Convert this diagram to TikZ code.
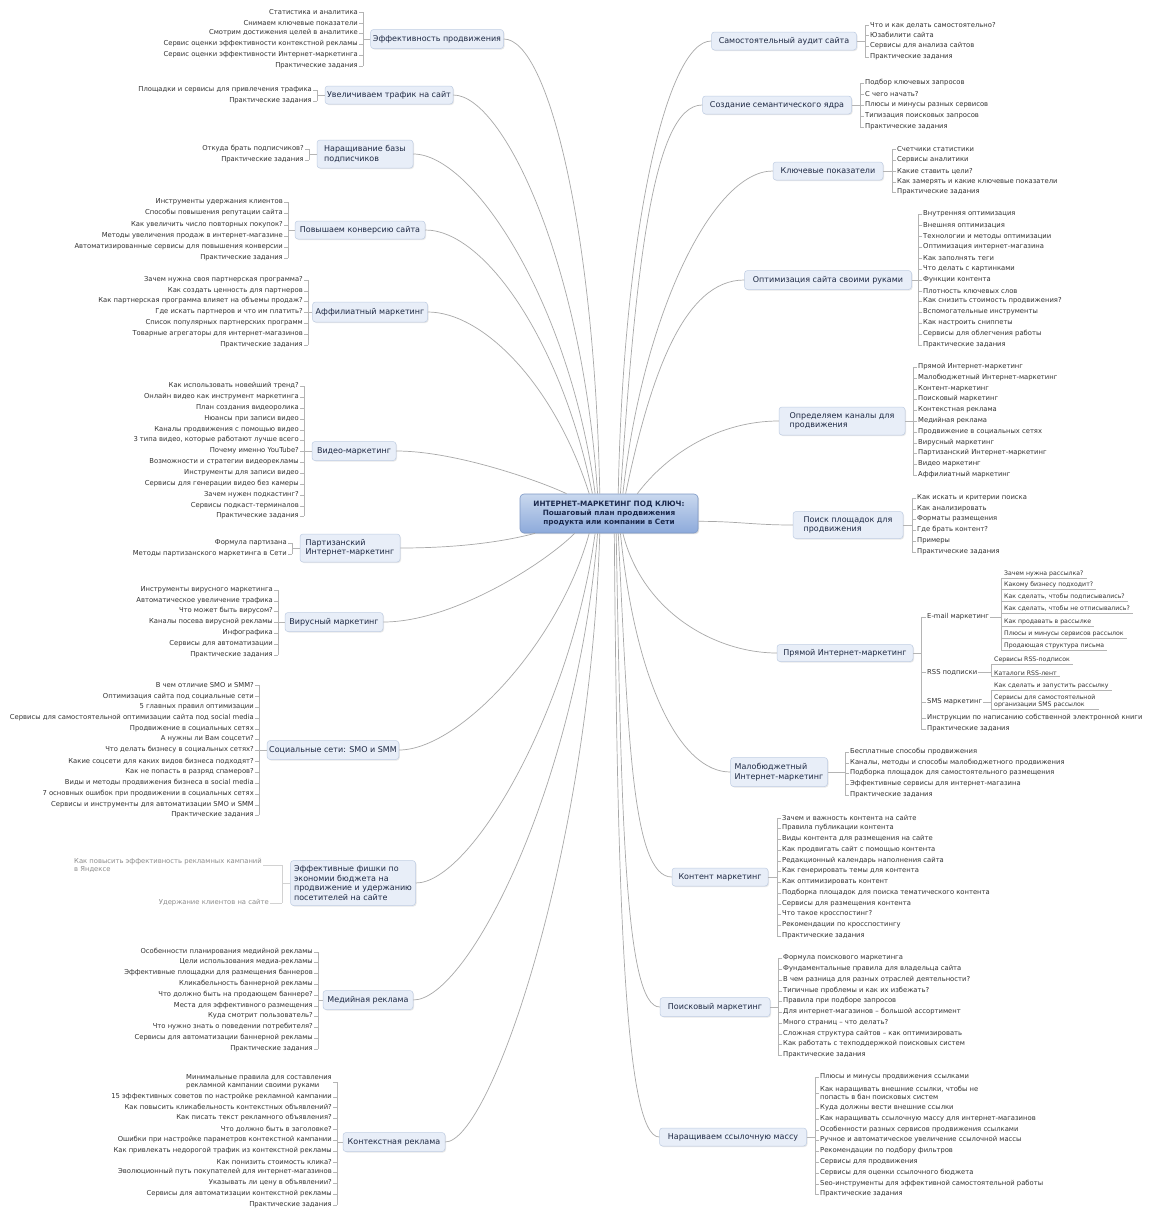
\documentclass[tikz,border=0pt]{standalone}
\usepackage{fontspec}
\setmainfont{DejaVu Sans}
\usetikzlibrary{shadows}

\definecolor{boxfill}{HTML}{E8EEF8}
\definecolor{boxline}{HTML}{BFCDE3}
\definecolor{boxtxt}{HTML}{1F2A44}
\definecolor{rootline}{HTML}{7D98C6}
\definecolor{roottop}{HTML}{C9D8EE}
\definecolor{rootbot}{HTML}{8DAADB}
\definecolor{roottxt}{HTML}{1C2A4E}
\definecolor{wirec}{HTML}{A8A8A8}
\definecolor{linkc}{HTML}{B4B4B4}
\definecolor{leaftxt}{HTML}{333333}

\newcommand\mmleaf{\fontsize{6.8}{7.8}\selectfont}
\newcommand\mmsmall{\fontsize{6.2}{7.1}\selectfont}

\begin{document}
\begin{tikzpicture}[x=1pt,y=-1pt,
  wire/.style={draw=wirec, line width=0.7pt},
  lnk/.style={draw=linkc, line width=0.45pt},
  root/.style={draw=rootline, line width=0.6pt, rounded corners=4pt, top color=roottop, bottom color=rootbot,
    text=roottxt, font=\bfseries\fontsize{7.3}{9}\selectfont, align=center, minimum width=178pt, minimum height=39pt,
    inner sep=2pt, drop shadow={opacity=0.25, shadow xshift=1.2pt, shadow yshift=-1.2pt}},
  branch/.style={draw=boxline, line width=0.5pt, fill=boxfill, rounded corners=3pt, text=boxtxt, align=left,
    font=\fontsize{8}{9.5}\selectfont, inner sep=2pt, drop shadow={opacity=0.18, shadow xshift=1pt, shadow yshift=-1pt}},
  leafl/.style={anchor=east, text=leaftxt, font=\mmleaf, inner xsep=1pt, inner ysep=0.5pt, align=left},
  leafr/.style={anchor=west, text=leaftxt, font=\mmleaf, inner xsep=1pt, inner ysep=0.5pt, align=left},
  uline/.style={anchor=west, text=leaftxt, font=\mmsmall, inner xsep=3pt, inner ysep=1pt, align=left,
    append after command={(\tikzlastnode.south west) edge[lnk] (\tikzlastnode.south east)}},
  faint/.style={text=black!45},
]
\fill[white] (0,0) rectangle (1166,1210);
\useasboundingbox (0,0) rectangle (1166,1210);

% root
\node[root] (root) at (609,513.5) {ИНТЕРНЕТ-МАРКЕТИНГ ПОД КЛЮЧ:\\Пошаговый план продвижения\\продукта или компании в Сети};

% ---------- left side ----------
\node[branch, minimum width=133pt, minimum height=19pt] (effprod) at (437,39) {Эффективность продвижения};
\coordinate (keffprod) at (363,39);
\node[leafl] (effprod1) at (359,12) {Статистика и аналитика};
\node[leafl] (effprod2) at (359,23) {Снимаем ключевые показатели};
\node[leafl] (effprod3) at (359,33) {Смотрим достижения целей в аналитике};
\node[leafl] (effprod4) at (359,44) {Сервис оценки эффективности контекстной рекламы};
\node[leafl] (effprod5) at (359,55) {Сервис оценки эффективности Интернет-маркетинга};
\node[leafl] (effprod6) at (359,66) {Практические задания};
\draw[lnk] (effprod.west) -- (keffprod) (effprod1.east -| keffprod) -- (effprod6.east -| keffprod)
  \foreach \i in {1,...,6}{(effprod\i.east) -- (effprod\i.east -| keffprod)};

\node[branch, minimum width=128pt, minimum height=18pt] (traffic) at (389,95) {Увеличиваем трафик на сайт};
\coordinate (ktraffic) at (317,95);
\node[leafl] (traffic1) at (313,90) {Площадки и сервисы для привлечения трафика};
\node[leafl] (traffic2) at (313,101) {Практические задания};
\draw[lnk] (traffic.west) -- (ktraffic) (traffic1.east -| ktraffic) -- (traffic2.east -| ktraffic)
  \foreach \i in {1,2}{(traffic\i.east) -- (traffic\i.east -| ktraffic)};

\node[branch, minimum width=96pt, minimum height=28pt] (subs) at (365,154) {Наращивание базы\\подписчиков};
\coordinate (ksubs) at (309,154);
\node[leafl] (subs1) at (305,149) {Откуда брать подписчиков?};
\node[leafl] (subs2) at (305,160) {Практические задания};
\draw[lnk] (subs.west) -- (ksubs) (subs1.east -| ksubs) -- (subs2.east -| ksubs)
  \foreach \i in {1,2}{(subs\i.east) -- (subs\i.east -| ksubs)};

\node[branch, minimum width=130pt, minimum height=18pt] (conv) at (360,230) {Повышаем конверсию сайта};
\coordinate (kconv) at (288,230);
\node[leafl] (conv1) at (284,202) {Инструменты удержания клиентов};
\node[leafl] (conv2) at (284,213) {Способы повышения репутации сайта};
\node[leafl] (conv3) at (284,225) {Как увеличить число повторных покупок?};
\node[leafl] (conv4) at (284,236) {Методы увеличения продаж в интернет-магазине};
\node[leafl] (conv5) at (284,247) {Автоматизированные сервисы для повышения конверсии};
\node[leafl] (conv6) at (284,258) {Практические задания};
\draw[lnk] (conv.west) -- (kconv) (conv1.east -| kconv) -- (conv6.east -| kconv)
  \foreach \i in {1,...,6}{(conv\i.east) -- (conv\i.east -| kconv)};

\node[branch, minimum width=115pt, minimum height=20pt] (affil) at (370,312) {Аффилиатный маркетинг};
\coordinate (kaffil) at (308,312);
\node[leafl] (affil1) at (304,280) {Зачем нужна своя партнерская программа?};
\node[leafl] (affil2) at (304,291) {Как создать ценность для партнеров};
\node[leafl] (affil3) at (304,301) {Как партнерская программа влияет на объемы продаж?};
\node[leafl] (affil4) at (304,312) {Где искать партнеров и что им платить?};
\node[leafl] (affil5) at (304,323) {Список популярных партнерских программ};
\node[leafl] (affil6) at (304,334) {Товарные агрегаторы для интернет-магазинов};
\node[leafl] (affil7) at (304,345) {Практические задания};
\draw[lnk] (affil.west) -- (kaffil) (affil1.east -| kaffil) -- (affil7.east -| kaffil)
  \foreach \i in {1,...,7}{(affil\i.east) -- (affil\i.east -| kaffil)};

\node[branch, minimum width=84pt, minimum height=19pt] (video) at (354,451) {Видео-маркетинг};
\coordinate (kvideo) at (304,451);
\node[leafl] (video1) at (300,386) {Как использовать новейший тренд?};
\node[leafl] (video2) at (300,397) {Онлайн видео как инструмент маркетинга};
\node[leafl] (video3) at (300,408) {План создания видеоролика};
\node[leafl] (video4) at (300,419) {Нюансы при записи видео};
\node[leafl] (video5) at (300,430) {Каналы продвижения с помощью видео};
\node[leafl] (video6) at (300,440) {3 типа видео, которые работают лучше всего};
\node[leafl] (video7) at (300,451) {Почему именно YouTube?};
\node[leafl] (video8) at (300,462) {Возможности и стратегии видеорекламы};
\node[leafl] (video9) at (300,473) {Инструменты для записи видео};
\node[leafl] (video10) at (300,484) {Сервисы для генерации видео без камеры};
\node[leafl] (video11) at (300,495) {Зачем нужен подкастинг?};
\node[leafl] (video12) at (300,506) {Сервисы подкаст-терминалов};
\node[leafl] (video13) at (300,516) {Практические задания};
\draw[lnk] (video.west) -- (kvideo) (video1.east -| kvideo) -- (video13.east -| kvideo)
  \foreach \i in {1,...,13}{(video\i.east) -- (video\i.east -| kvideo)};

\node[branch, minimum width=100pt, minimum height=28pt] (guerr) at (350,548) {Партизанский\\Интернет-маркетинг};
\coordinate (kguerr) at (292,548);
\node[leafl] (guerr1) at (288,543) {Формула партизана};
\node[leafl] (guerr2) at (288,554) {Методы партизанского маркетинга в Сети};
\draw[lnk] (guerr.west) -- (kguerr) (guerr1.east -| kguerr) -- (guerr2.east -| kguerr)
  \foreach \i in {1,2}{(guerr\i.east) -- (guerr\i.east -| kguerr)};

\node[branch, minimum width=98pt, minimum height=19pt] (viral) at (334,622) {Вирусный маркетинг};
\coordinate (kviral) at (278,622);
\node[leafl] (viral1) at (274,590) {Инструменты вирусного маркетинга};
\node[leafl] (viral2) at (274,601) {Автоматическое увеличение трафика};
\node[leafl] (viral3) at (274,611) {Что может быть вирусом?};
\node[leafl] (viral4) at (274,622) {Каналы посева вирусной рекламы};
\node[leafl] (viral5) at (274,633) {Инфографика};
\node[leafl] (viral6) at (274,644) {Сервисы для автоматизации};
\node[leafl] (viral7) at (274,655) {Практические задания};
\draw[lnk] (viral.west) -- (kviral) (viral1.east -| kviral) -- (viral7.east -| kviral)
  \foreach \i in {1,...,7}{(viral\i.east) -- (viral\i.east -| kviral)};

\node[branch, minimum width=131pt, minimum height=19pt] (social) at (333,750) {Социальные сети: SMO и SMM};
\coordinate (ksocial) at (259,750);
\node[leafl] (social1) at (255,685) {В чем отличие SMO и SMM?};
\node[leafl] (social2) at (255,696) {Оптимизация сайта под социальные сети};
\node[leafl] (social3) at (255,707) {5 главных правил оптимизации};
\node[leafl] (social4) at (255,718) {Сервисы для самостоятельной оптимизации сайта под social media};
\node[leafl] (social5) at (255,729) {Продвижение в социальных сетях};
\node[leafl] (social6) at (255,739) {А нужны ли Вам соцсети?};
\node[leafl] (social7) at (255,750) {Что делать бизнесу в социальных сетях?};
\node[leafl] (social8) at (255,761) {Какие соцсети для каких видов бизнеса подходят?};
\node[leafl] (social9) at (255,772) {Как не попасть в разряд спамеров?};
\node[leafl] (social10) at (255,783) {Виды и методы продвижения бизнеса в social media};
\node[leafl] (social11) at (255,794) {7 основных ошибок при продвижении в социальных сетях};
\node[leafl] (social12) at (255,805) {Сервисы и инструменты для автоматизации SMO и SMM};
\node[leafl] (social13) at (255,815) {Практические задания};
\draw[lnk] (social.west) -- (ksocial) (social1.east -| ksocial) -- (social13.east -| ksocial)
  \foreach \i in {1,...,13}{(social\i.east) -- (social\i.east -| ksocial)};

\node[branch, minimum width=125pt, minimum height=45pt] (tricks) at (353,883) {Эффективные фишки по\\экономии бюджета на\\продвижение и удержанию\\посетителей на сайте};
\coordinate (ktricks) at (282,883);
\node[leafl, faint] (tricks1) at (263,865) {Как повысить эффективность рекламных кампаний\\в Яндексе};
\node[leafl, faint] (tricks2) at (270,903) {Удержание клиентов на сайте};
\draw[lnk, draw=linkc!60] (tricks.west) -- (ktricks) (tricks1.east -| ktricks) -- (tricks2.east -| ktricks)
  \foreach \i in {1,2}{(tricks\i.east) -- (tricks\i.east -| ktricks)};

\node[branch, minimum width=90pt, minimum height=19pt] (media) at (368,1000) {Медийная реклама};
\coordinate (kmedia) at (318,1000);
\node[leafl] (media1) at (314,952) {Особенности планирования медийной рекламы};
\node[leafl] (media2) at (314,962) {Цели использования медиа-рекламы};
\node[leafl] (media3) at (314,973) {Эффективные площадки для размещения баннеров};
\node[leafl] (media4) at (314,984) {Кликабельность баннерной рекламы};
\node[leafl] (media5) at (314,995) {Что должно быть на продающем баннере?};
\node[leafl] (media6) at (314,1006) {Места для эффективного размещения};
\node[leafl] (media7) at (314,1016) {Куда смотрит пользователь?};
\node[leafl] (media8) at (314,1027) {Что нужно знать о поведении потребителя?};
\node[leafl] (media9) at (314,1038) {Сервисы для автоматизации баннерной рекламы};
\node[leafl] (media10) at (314,1049) {Практические задания};
\draw[lnk] (media.west) -- (kmedia) (media1.east -| kmedia) -- (media10.east -| kmedia)
  \foreach \i in {1,...,10}{(media\i.east) -- (media\i.east -| kmedia)};

\node[branch, minimum width=102pt, minimum height=19pt] (context) at (394,1142) {Контекстная реклама};
\coordinate (kcontext) at (337,1142);
\node[leafl] (context1) at (333,1082) {Минимальные правила для составления\\рекламной кампании своими руками};
\node[leafl] (context2) at (333,1097) {15 эффективных советов по настройке рекламной кампании};
\node[leafl] (context3) at (333,1107) {Как повысить кликабельность контекстных объявлений?};
\node[leafl] (context4) at (333,1118) {Как писать текст рекламного объявления?};
\node[leafl] (context5) at (333,1129) {Что должно быть в заголовке?};
\node[leafl] (context6) at (333,1140) {Ошибки при настройке параметров контекстной кампании};
\node[leafl] (context7) at (333,1151) {Как привлекать недорогой трафик из контекстной рекламы};
\node[leafl] (context8) at (333,1162) {Как понизить стоимость клика?};
\node[leafl] (context9) at (333,1172) {Эволюционный путь покупателей для интернет-магазинов};
\node[leafl] (context10) at (333,1183) {Указывать ли цену в объявлении?};
\node[leafl] (context11) at (333,1194) {Сервисы для автоматизации контекстной рекламы};
\node[leafl] (context12) at (333,1205) {Практические задания};
\draw[lnk] (context.west) -- (kcontext) (context1.east -| kcontext) -- (context12.east -| kcontext)
  \foreach \i in {1,...,12}{(context\i.east) -- (context\i.east -| kcontext)};

% ---------- right side ----------
\node[branch, minimum width=145pt, minimum height=18pt] (audit) at (784,41) {Самостоятельный аудит сайта};
\coordinate (kaudit) at (865,41);
\node[leafr] (audit1) at (869,25) {Что и как делать самостоятельно?};
\node[leafr] (audit2) at (869,35) {Юзабилити сайта};
\node[leafr] (audit3) at (869,46) {Сервисы для анализа сайтов};
\node[leafr] (audit4) at (869,57) {Практические задания};
\draw[lnk] (audit.east) -- (kaudit) (audit1.west -| kaudit) -- (audit4.west -| kaudit)
  \foreach \i in {1,...,4}{(audit\i.west) -- (audit\i.west -| kaudit)};

\node[branch, minimum width=149pt, minimum height=18pt] (semcore) at (777,105) {Создание семантического ядра};
\coordinate (ksemcore) at (860,105);
\node[leafr] (semcore1) at (864,83) {Подбор ключевых запросов};
\node[leafr] (semcore2) at (864,94) {С чего начать?};
\node[leafr] (semcore3) at (864,105) {Плюсы и минусы разных сервисов};
\node[leafr] (semcore4) at (864,116) {Типизация поисковых запросов};
\node[leafr] (semcore5) at (864,127) {Практические задания};
\draw[lnk] (semcore.east) -- (ksemcore) (semcore1.west -| ksemcore) -- (semcore5.west -| ksemcore)
  \foreach \i in {1,...,5}{(semcore\i.west) -- (semcore\i.west -| ksemcore)};

\node[branch, minimum width=110pt, minimum height=18pt] (kpi) at (828,171) {Ключевые показатели};
\coordinate (kkpi) at (892,171);
\node[leafr] (kpi1) at (896,149) {Счетчики статистики};
\node[leafr] (kpi2) at (896,160) {Сервисы аналитики};
\node[leafr] (kpi3) at (896,171) {Какие ставить цели?};
\node[leafr] (kpi4) at (896,182) {Как замерять и какие ключевые показатели};
\node[leafr] (kpi5) at (896,192) {Практические задания};
\draw[lnk] (kpi.east) -- (kkpi) (kpi1.west -| kkpi) -- (kpi5.west -| kkpi)
  \foreach \i in {1,...,5}{(kpi\i.west) -- (kpi\i.west -| kkpi)};

\node[branch, minimum width=167pt, minimum height=19pt] (optim) at (828,280) {Оптимизация сайта своими руками};
\coordinate (koptim) at (918,280);
\node[leafr] (optim1) at (922,214) {Внутренняя оптимизация};
\node[leafr] (optim2) at (922,225) {Внешняя оптимизация};
\node[leafr] (optim3) at (922,236) {Технологии и методы оптимизации};
\node[leafr] (optim4) at (922,247) {Оптимизация интернет-магазина};
\node[leafr] (optim5) at (922,258) {Как заполнять теги};
\node[leafr] (optim6) at (922,269) {Что делать с картинками};
\node[leafr] (optim7) at (922,280) {Функции контента};
\node[leafr] (optim8) at (922,291) {Плотность ключевых слов};
\node[leafr] (optim9) at (922,301) {Как снизить стоимость продвижения?};
\node[leafr] (optim10) at (922,312) {Вспомогательные инструменты};
\node[leafr] (optim11) at (922,323) {Как настроить сниппеты};
\node[leafr] (optim12) at (922,334) {Сервисы для облегчения работы};
\node[leafr] (optim13) at (922,345) {Практические задания};
\draw[lnk] (optim.east) -- (koptim) (optim1.west -| koptim) -- (optim13.west -| koptim)
  \foreach \i in {1,...,13}{(optim\i.west) -- (optim\i.west -| koptim)};

\node[branch, minimum width=126pt, minimum height=28pt] (channels) at (842,421) {Определяем каналы для\\продвижения};
\coordinate (kchannels) at (913,421);
\node[leafr] (channels1) at (917,367) {Прямой Интернет-маркетинг};
\node[leafr] (channels2) at (917,378) {Малобюджетный Интернет-маркетинг};
\node[leafr] (channels3) at (917,389) {Контент-маркетинг};
\node[leafr] (channels4) at (917,399) {Поисковый маркетинг};
\node[leafr] (channels5) at (917,410) {Контекстная реклама};
\node[leafr] (channels6) at (917,421) {Медийная реклама};
\node[leafr] (channels7) at (917,432) {Продвижение в социальных сетях};
\node[leafr] (channels8) at (917,443) {Вирусный маркетинг};
\node[leafr] (channels9) at (917,453) {Партизанский Интернет-маркетинг};
\node[leafr] (channels10) at (917,464) {Видео маркетинг};
\node[leafr] (channels11) at (917,475) {Аффилиатный маркетинг};
\draw[lnk] (channels.east) -- (kchannels) (channels1.west -| kchannels) -- (channels11.west -| kchannels)
  \foreach \i in {1,...,11}{(channels\i.west) -- (channels\i.west -| kchannels)};

\node[branch, minimum width=110pt, minimum height=27pt] (places) at (848,525) {Поиск площадок для\\продвижения};
\coordinate (kplaces) at (912,525);
\node[leafr] (places1) at (916,498) {Как искать и критерии поиска};
\node[leafr] (places2) at (916,509) {Как анализировать};
\node[leafr] (places3) at (916,519) {Форматы размещения};
\node[leafr] (places4) at (916,530) {Где брать контент?};
\node[leafr] (places5) at (916,541) {Примеры};
\node[leafr] (places6) at (916,552) {Практические задания};
\draw[lnk] (places.east) -- (kplaces) (places1.west -| kplaces) -- (places6.west -| kplaces)
  \foreach \i in {1,...,6}{(places\i.west) -- (places\i.west -| kplaces)};

\node[branch, minimum width=136pt, minimum height=17pt] (direct) at (845,653) {Прямой Интернет-маркетинг};
\coordinate (kdirect) at (921,653);
\node[leafr] (direct1) at (926,617) {E-mail маркетинг};
\node[leafr] (direct2) at (926,672) {RSS подписки};
\node[leafr] (direct3) at (926,702) {SMS маркетинг};
\node[leafr] (direct4) at (926,718) {Инструкции по написанию собственной электронной книги};
\node[leafr] (direct5) at (926,729) {Практические задания};
\draw[lnk] (direct.east) -- (kdirect) (direct1.west -| kdirect) -- (direct5.west -| kdirect)
  \foreach \i in {1,...,5}{(direct\i.west) -- (direct\i.west -| kdirect)};

\coordinate (kmail) at (1001,617);
\node[uline] (mail1) at (1001,574) {Зачем нужна рассылка?};
\node[uline] (mail2) at (1001,585) {Какому бизнесу подходит?};
\node[uline] (mail3) at (1001,597) {Как сделать, чтобы подписывались?};
\node[uline] (mail4) at (1001,609) {Как сделать, чтобы не отписывались?};
\node[uline] (mail5) at (1001,622) {Как продавать в рассылке};
\node[uline] (mail6) at (1001,634) {Плюсы и минусы сервисов рассылок};
\node[uline] (mail7) at (1001,646) {Продающая структура письма};
\draw[lnk] (direct1.east) -- (kmail) (mail1.south west) -- (mail7.south west);

\coordinate (krss) at (991,672);
\node[uline] (rss1) at (991,660) {Сервисы RSS-подписок};
\node[uline] (rss2) at (991,673) {Каталоги RSS-лент};
\draw[lnk] (direct2.east) -- (krss) (rss1.south west) -- (rss2.south west);

\coordinate (ksms) at (991,702);
\node[uline] (sms1) at (991,686) {Как сделать и запустить рассылку};
\node[uline] (sms2) at (991,701) {Сервисы для самостоятельной\\организации SMS рассылок};
\draw[lnk] (direct3.east) -- (ksms) (sms1.south west) -- (sms2.south west);

\node[branch, minimum width=97pt, minimum height=29pt] (lowbud) at (779,772) {Малобюджетный\\Интернет-маркетинг};
\coordinate (klowbud) at (845,772);
\node[leafr] (lowbud1) at (849,752) {Бесплатные способы продвижения};
\node[leafr] (lowbud2) at (849,763) {Каналы, методы и способы малобюджетного продвижения};
\node[leafr] (lowbud3) at (849,773) {Подборка площадок для самостоятельного размещения};
\node[leafr] (lowbud4) at (849,784) {Эффективные сервисы для интернет-магазина};
\node[leafr] (lowbud5) at (849,795) {Практические задания};
\draw[lnk] (lowbud.east) -- (klowbud) (lowbud1.west -| klowbud) -- (lowbud5.west -| klowbud)
  \foreach \i in {1,...,5}{(lowbud\i.west) -- (lowbud\i.west -| klowbud)};

\node[branch, minimum width=96pt, minimum height=18pt] (content) at (720,877) {Контент маркетинг};
\coordinate (kcontent) at (777,877);
\node[leafr] (content1) at (781,818) {Зачем и важность контента на сайте};
\node[leafr] (content2) at (781,828) {Правила публикации контента};
\node[leafr] (content3) at (781,839) {Виды контента для размещения на сайте};
\node[leafr] (content4) at (781,850) {Как продвигать сайт с помощью контента};
\node[leafr] (content5) at (781,861) {Редакционный календарь наполнения сайта};
\node[leafr] (content6) at (781,871) {Как генерировать темы для контента};
\node[leafr] (content7) at (781,882) {Как оптимизировать контент};
\node[leafr] (content8) at (781,893) {Подборка площадок для поиска тематического контента};
\node[leafr] (content9) at (781,904) {Сервисы для размещения контента};
\node[leafr] (content10) at (781,914) {Что такое кросспостинг?};
\node[leafr] (content11) at (781,925) {Рекомендации по кросспостингу};
\node[leafr] (content12) at (781,936) {Практические задания};
\draw[lnk] (content.east) -- (kcontent) (content1.west -| kcontent) -- (content12.west -| kcontent)
  \foreach \i in {1,...,12}{(content\i.west) -- (content\i.west -| kcontent)};

\node[branch, minimum width=110pt, minimum height=19pt] (search) at (715,1007) {Поисковый маркетинг};
\coordinate (ksearch) at (778,1007);
\node[leafr] (search1) at (782,958) {Формула поискового маркетинга};
\node[leafr] (search2) at (782,969) {Фундаментальные правила для владельца сайта};
\node[leafr] (search3) at (782,980) {В чем разница для разных отраслей деятельности?};
\node[leafr] (search4) at (782,991) {Типичные проблемы и как их избежать?};
\node[leafr] (search5) at (782,1001) {Правила при подборе запросов};
\node[leafr] (search6) at (782,1012) {Для интернет-магазинов – большой ассортимент};
\node[leafr] (search7) at (782,1023) {Много страниц – что делать?};
\node[leafr] (search8) at (782,1034) {Сложная структура сайтов – как оптимизировать};
\node[leafr] (search9) at (782,1044) {Как работать с техподдержкой поисковых систем};
\node[leafr] (search10) at (782,1055) {Практические задания};
\draw[lnk] (search.east) -- (ksearch) (search1.west -| ksearch) -- (search10.west -| ksearch)
  \foreach \i in {1,...,10}{(search\i.west) -- (search\i.west -| ksearch)};

\node[branch, minimum width=147pt, minimum height=18pt] (links) at (733,1137) {Наращиваем ссылочную массу};
\coordinate (klinks) at (815,1137);
\node[leafr] (links1) at (819,1077) {Плюсы и минусы продвижения ссылками};
\node[leafr] (links2) at (819,1093) {Как наращивать внешние ссылки, чтобы не\\попасть в бан поисковых систем};
\node[leafr] (links3) at (819,1108) {Куда должны вести внешние ссылки};
\node[leafr] (links4) at (819,1119) {Как наращивать ссылочную массу для интернет-магазинов};
\node[leafr] (links5) at (819,1130) {Особенности разных сервисов продвижения ссылками};
\node[leafr] (links6) at (819,1140) {Ручное и автоматическое увеличение ссылочной массы};
\node[leafr] (links7) at (819,1151) {Рекомендации по подбору фильтров};
\node[leafr] (links8) at (819,1162) {Сервисы для продвижения};
\node[leafr] (links9) at (819,1173) {Сервисы для оценки ссылочного бюджета};
\node[leafr] (links10) at (819,1184) {Seo-инструменты для эффективной самостоятельной работы};
\node[leafr] (links11) at (819,1194) {Практические задания};
\draw[lnk] (links.east) -- (klinks) (links1.west -| klinks) -- (links11.west -| klinks)
  \foreach \i in {1,...,11}{(links\i.west) -- (links\i.west -| klinks)};

% ---------- curves from the root ----------
\draw[wire] (root.115) .. controls +(-5,-260) and +(45,0) .. (effprod.east);
\draw[wire] (root.120) .. controls +(-15,-230) and +(50,0) .. (traffic.east);
\draw[wire] (root.125) .. controls +(-25,-190) and +(60,0) .. (subs.east);
\draw[wire] (root.130) .. controls +(-30,-150) and +(60,0) .. (conv.east);
\draw[wire] (root.135) .. controls +(-35,-110) and +(55,0) .. (affil.east);
\draw[wire] (root.155) .. controls +(-25,-12) and +(60,0) .. (video.east);
\draw[wire] (root.-165) .. controls +(-30,8) and +(60,0) .. (guerr.east);
\draw[wire] (root.-150) .. controls +(-30,30) and +(70,0) .. (viral.east);
\draw[wire] (root.-135) .. controls +(-30,110) and +(60,0) .. (social.east);
\draw[wire] (root.-125) .. controls +(-25,180) and +(55,0) .. (tricks.east);
\draw[wire] (root.-120) .. controls +(-20,250) and +(55,0) .. (media.east);
\draw[wire] (root.-115) .. controls +(-10,320) and +(45,0) .. (context.east);

\draw[wire] (root.65) .. controls +(5,-260) and +(-45,0) .. (audit.west);
\draw[wire] (root.60) .. controls +(15,-220) and +(-50,0) .. (semcore.west);
\draw[wire] (root.55) .. controls +(20,-180) and +(-60,0) .. (kpi.west);
\draw[wire] (root.50) .. controls +(25,-120) and +(-60,0) .. (optim.west);
\draw[wire] (root.35) .. controls +(30,-40) and +(-60,0) .. (channels.west);
\draw[wire] (root.-5) .. controls +(40,0) and +(-40,0) .. (places.west);
\draw[wire] (root.-55) .. controls +(20,80) and +(-60,0) .. (direct.west);
\draw[wire] (root.-60) .. controls +(15,150) and +(-50,0) .. (lowbud.west);
\draw[wire] (root.-65) .. controls +(10,200) and +(-40,0) .. (content.west);
\draw[wire] (root.-70) .. controls +(5,280) and +(-35,0) .. (search.west);
\draw[wire] (root.-75) .. controls +(3,360) and +(-35,0) .. (links.west);
\end{tikzpicture}
\end{document}
